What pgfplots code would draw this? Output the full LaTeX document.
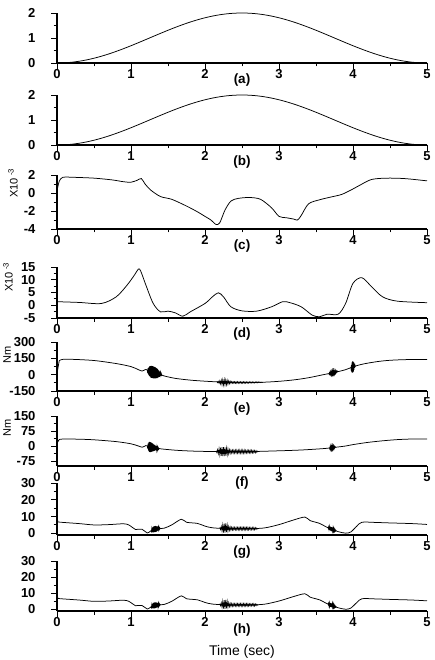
\documentclass[border=0pt]{standalone}
\usepackage{pgfplots}
\pgfplotsset{compat=1.18}
\usepackage{pgfplotstable}
\usepackage{fontspec}
\setmainfont{Liberation Sans}

\pgfplotstableread{
t y
0 0
0.1 0.0079
0.2 0.0314
0.3 0.0702
0.4 0.1237
0.5 0.1910
0.6 0.2710
0.7 0.3626
0.8 0.4642
0.9 0.5742
1.0 0.6910
1.1 0.8126
1.2 0.9372
1.3 1.0628
1.4 1.1874
1.5 1.3090
1.6 1.4258
1.7 1.5358
1.8 1.6374
1.9 1.7290
2.0 1.8090
2.1 1.8763
2.2 1.9298
2.3 1.9686
2.4 1.9921
2.5 2.0
2.6 1.9921
2.7 1.9686
2.8 1.9298
2.9 1.8763
3.0 1.8090
3.1 1.7290
3.2 1.6374
3.3 1.5358
3.4 1.4258
3.5 1.3090
3.6 1.1874
3.7 1.0628
3.8 0.9372
3.9 0.8126
4.0 0.6910
4.1 0.5742
4.2 0.4642
4.3 0.3626
4.4 0.2710
4.5 0.1910
4.6 0.1237
4.7 0.0702
4.8 0.0314
4.9 0.0079
5.0 0
}\dataA

\pgfplotstableread{
t y
0 0.2
0.03 1.3
0.08 1.75
0.2 1.75
0.5 1.65
0.75 1.45
0.9 1.25
1.0 1.2
1.08 1.4
1.14 1.6
1.19 1.0
1.27 0.3
1.4 -0.4
1.55 -0.7
1.75 -1.45
1.9 -2.1
2.0 -2.6
2.08 -3.0
2.15 -3.5
2.2 -3.3
2.27 -1.9
2.35 -0.9
2.45 -0.6
2.6 -0.5
2.75 -0.7
2.9 -1.65
3.0 -2.6
3.1 -2.75
3.2 -2.9
3.25 -3.0
3.3 -2.5
3.4 -1.2
3.55 -0.75
3.7 -0.45
3.85 -0.15
4.0 0.45
4.1 0.9
4.25 1.5
4.45 1.65
4.7 1.6
5.0 1.35
}\dataC

\pgfplotstableread{
t y
0 1.4
0.3 1.1
0.6 0.7
0.8 3.3
0.95 8.0
1.05 12
1.1 14.2
1.13 13.5
1.2 8
1.3 0.7
1.4 -2.6
1.5 -2.3
1.6 -3
1.7 -4.3
1.8 -2.6
2.0 0.7
2.1 3.3
2.18 4.9
2.25 3.3
2.35 -0.6
2.5 -2.2
2.7 -2.3
2.9 -0.6
3.05 1.4
3.15 1.0
3.3 -0.6
3.45 -3.9
3.55 -4.5
3.65 -3.5
3.8 -3.5
3.9 0.7
4.0 8.6
4.12 10.8
4.25 7.3
4.4 3.3
4.6 1.6
5.0 1.0
}\dataD

% ---------- panel e ----------
\pgfplotstableread{
t y
0 0
0.004 290
0.008 40
0.03 128
}\dataEs
\pgfplotstableread{
t y
0.03 128
0.07 140
0.2 141
0.5 130
0.8 102
1.0 74
1.1 46
1.15 33
1.18 42
1.2 48
1.25 32
1.35 12
1.45 -12
1.6 -34
1.8 -50
2.0 -60
2.2 -67
2.5 -72
2.8 -69
3.0 -61
3.2 -48
3.4 -28
3.6 0
3.75 20
3.9 46
4.0 72
4.1 92
4.2 106
4.35 122
4.5 132
4.7 138
5.0 140
}\dataE
\pgfplotstableread{
t y
1.220 45
1.225 12
1.230 61
1.235 0
1.240 66
1.245 -12
1.250 75
1.255 -19
1.260 78
1.265 -26
1.270 81
1.275 -30
1.280 81
1.285 -32
1.290 79
1.295 -32
1.300 77
1.305 -33
1.310 73
1.315 -34
1.320 70
1.325 -33
1.330 67
1.335 -33
1.340 63
1.345 -32
1.350 57
1.355 -31
1.360 53
1.365 -28
1.370 44
1.375 -23
1.380 38
1.385 -19
1.390 28
1.395 -13
1.400 19
1.405 -8
1.410 10
1.415 -4
1.420 0
}\dataEa
\pgfplotstableread{
t y
2.16 -64
2.17 -74
2.18 -61
2.19 -80
2.20 -55
2.21 -86
2.22 -50
2.23 -92
2.24 -46
2.25 -95
2.26 -45
2.27 -95
2.28 -47
2.29 -93
2.30 -51
2.31 -88
2.32 -56
2.33 -84
2.34 -60
2.35 -80
2.36 -63
2.37 -79
2.38 -64
2.39 -80
2.40 -64
2.41 -80
2.42 -64
2.43 -80
2.44 -64
2.45 -80
2.46 -65
2.47 -79
2.48 -65
2.49 -79
2.50 -65
2.51 -79
2.52 -65
2.53 -79
2.54 -65
2.55 -79
2.56 -66
2.57 -78
2.58 -66
2.59 -78
2.60 -66
2.61 -77
2.62 -66
2.63 -77
2.64 -66
2.65 -76
2.66 -66
2.67 -76
2.68 -66
2.69 -75
2.70 -66
2.71 -75
2.72 -67
2.73 -74
2.74 -68
2.75 -73
2.76 -69
2.77 -72
2.78 -70
}\dataEb
\pgfplotstableread{
t y
3.670 11
3.675 6
3.680 17
3.685 4
3.690 23
3.695 3
3.700 26
3.705 2
3.710 30
3.715 3
3.720 32
3.725 3
3.730 34
3.735 5
3.740 35
3.745 7
3.750 35
3.755 11
3.760 35
3.765 15
3.770 34
3.775 20
3.780 33
3.785 25
3.790 33
3.795 29
3.800 32
}\dataEc
\pgfplotstableread{
t y
3.970 67
3.974 49
3.978 90
3.982 31
3.986 112
3.990 18
3.994 122
3.998 19
4.002 122
4.006 28
4.010 112
4.014 45
4.018 99
4.022 63
4.026 89
4.030 75
4.034 81
}\dataEd

% ---------- panel f ----------
\pgfplotstableread{
t y
0 0
0.004 60
0.01 20
0.03 32
}\dataFs
\pgfplotstableread{
t y
0.03 32
0.08 35
0.3 34
0.5 31
0.8 22
1.0 11
1.1 0
1.15 -6
1.18 -2
1.2 2
1.28 -6
1.4 -14
1.6 -21
1.8 -25
2.0 -27
2.3 -28
2.6 -28
3.0 -24
3.3 -20
3.6 -13
3.75 -7
3.9 0
4.0 7
4.2 18
4.4 26
4.6 32
4.8 35
5.0 35
}\dataF
\pgfplotstableread{
t y
1.220 2
1.225 -13
1.230 12
1.235 -23
1.240 18
1.245 -29
1.250 20
1.255 -30
1.260 19
1.265 -31
1.270 18
1.275 -29
1.280 15
1.285 -28
1.290 13
1.295 -27
1.300 10
1.305 -25
1.310 7
1.315 -24
1.320 5
1.325 -23
1.330 2
1.335 -21
1.340 -1
1.345 -20
1.350 -3
1.355 -19
1.360 -6
1.365 -17
1.370 -9
1.375 -16
1.380 -13
}\dataFa
\pgfplotstableread{
t y
2.15 -24
2.16 -33
2.17 -18
2.18 -39
2.19 -12
2.20 -45
2.21 -8
2.22 -49
2.23 -6
2.24 -50
2.25 -6
2.26 -50
2.27 -7
2.28 -48
2.29 -10
2.30 -44
2.31 -14
2.32 -40
2.33 -18
2.34 -37
2.35 -20
2.36 -36
2.37 -20
2.38 -36
2.39 -20
2.40 -36
2.41 -20
2.42 -36
2.43 -20
2.44 -36
2.45 -20
2.46 -36
2.47 -20
2.48 -36
2.49 -20
2.50 -36
2.51 -20
2.52 -36
2.53 -20
2.54 -36
2.55 -21
2.56 -35
2.57 -21
2.58 -35
2.59 -21
2.60 -35
2.61 -21
2.62 -35
2.63 -21
2.64 -35
2.65 -22
2.66 -34
2.67 -22
2.68 -34
2.69 -23
2.70 -32
2.71 -25
2.72 -28
}\dataFb
\pgfplotstableread{
t y
3.680 -8
3.685 -14
3.690 -4
3.695 -16
3.700 -1
3.705 -17
3.710 -1
3.715 -16
3.720 0
3.725 -16
3.730 -1
3.735 -14
3.740 -1
3.745 -12
3.750 -2
3.755 -9
3.760 -4
3.765 -6
3.770 -5
}\dataFc

% ---------- panels g and h ----------
\pgfplotstableread{
t y
0 4
0.005 8.5
0.012 6.8
0.05 6.6
}\dataGs
\pgfplotstableread{
t y
0.05 6.6
0.3 5.8
0.5 5.0
0.7 5.2
0.9 5.7
0.97 5.0
1.02 3.5
1.06 2.3
1.15 2.4
1.22 0.2
1.27 1.5
1.35 2.6
1.45 3.1
1.55 5.0
1.68 8.4
1.75 6.6
1.9 5.9
2.0 4.3
2.1 3.3
2.3 2.8
2.6 2.8
2.8 3.2
3.0 5.2
3.2 8.0
3.35 9.7
3.42 7.6
3.55 5.9
3.63 4.0
3.7 2.6
3.8 1.0
3.9 0.1
3.97 0.8
4.05 4.2
4.12 6.6
4.3 6.5
4.5 6.2
4.8 5.8
5.0 5.3
}\dataG
\pgfplotstableread{
t y
1.270 1.8
1.275 1.1
1.280 2.8
1.285 0.8
1.290 3.5
1.295 0.6
1.300 4.0
1.305 0.6
1.310 4.2
1.315 0.7
1.320 4.3
1.325 0.7
1.330 4.4
1.335 0.9
1.340 4.3
1.345 1.1
1.350 4.2
1.355 1.3
1.360 4.1
1.365 1.7
1.370 3.8
1.375 2.1
1.380 3.5
1.385 2.4
1.390 3.2
1.395 2.8
1.400 3.0
}\dataGa
\pgfplotstableread{
t y
2.20 3.5
2.21 2.2
2.22 4.2
2.23 1.3
2.24 5.1
2.25 0.5
2.26 5.7
2.27 0.4
2.28 5.9
2.29 0.7
2.30 5.1
2.31 1.3
2.32 4.2
2.33 1.7
2.34 3.8
2.35 1.9
2.36 3.7
2.37 1.9
2.38 3.6
2.39 2.0
2.40 3.6
2.41 2.0
2.42 3.6
2.43 2.0
2.44 3.6
2.45 2.0
2.46 3.6
2.47 2.0
2.48 3.6
2.49 2.0
2.50 3.6
2.51 2.0
2.52 3.6
2.53 2.0
2.54 3.6
2.55 2.0
2.56 3.6
2.57 2.0
2.58 3.6
2.59 2.0
2.60 3.5
2.61 2.1
2.62 3.5
2.63 2.1
2.64 3.5
2.65 2.1
2.66 3.5
2.67 2.1
2.68 3.4
2.69 2.3
2.70 3.2
2.71 2.6
2.72 2.9
}\dataGb
\pgfplotstableread{
t y
3.660 3.7
3.665 3.0
3.670 3.9
3.675 2.4
3.680 4.1
3.685 1.9
3.690 4.1
3.695 1.6
3.700 3.9
3.705 1.4
3.710 3.7
3.715 1.2
3.720 3.5
3.725 1.3
3.730 3.2
3.735 1.2
3.740 2.8
3.745 1.3
3.750 2.5
3.755 1.3
3.760 2.1
3.765 1.4
3.770 1.8
3.775 1.5
}\dataGc

\tikzset{
  plab/.style={font=\fontsize{13.5}{13.5}\selectfont\bfseries},
  ylab/.style={rotate=90, font=\fontsize{11}{11}\selectfont},
  cur/.style={black, line width=0.75pt, mark=none},
  bur/.style={black, line width=0.65pt, mark=none},
}
\pgfplotsset{
  panel/.style={
    scale only axis, width=370pt, anchor=north west,
    clip mode=individual,
    xmin=0, xmax=5, xtick={0,1,2,3,4,5}, minor x tick num=1,
    minor y tick num=1,
    axis x line*=bottom, axis y line*=left,
    tick align=outside, major tick length=6pt, minor tick length=3.5pt,
    every tick/.style={black, line width=0.9pt},
    axis line style={black, line width=1.2pt},
    tick label style={font=\fontsize{13}{13}\selectfont},
    /pgf/number format/assume math mode=true,
    xticklabel={\textbf{\pgfmathprintnumber{\tick}}},
    yticklabel={\textbf{\pgfmathprintnumber{\tick}}},
    xticklabel style={inner sep=0.5pt},
    yticklabel style={xshift=-12pt},
  },
}

\begin{document}
\begin{tikzpicture}
\path[use as bounding box] (0pt,0pt) rectangle (434pt,-660pt);

% (a)
\begin{axis}[panel, at={(57pt,-13pt)}, height=50pt, ymin=0, ymax=2, ytick={0,1,2}]
\addplot[cur, smooth] table[x=t,y=y]{\dataA};
\node[plab] at ([yshift=-17.5pt]rel axis cs:0.5,0) {(a)};
\end{axis}

% (b)
\begin{axis}[panel, at={(57pt,-95pt)}, height=50pt, ymin=0, ymax=2, ytick={0,1,2}]
\addplot[cur, smooth] table[x=t,y=y]{\dataA};
\node[plab] at ([yshift=-17.5pt]rel axis cs:0.5,0) {(b)};
\end{axis}

% (c)
\begin{axis}[panel, at={(57pt,-175pt)}, height=54pt, ymin=-4, ymax=2, ytick={-4,-2,0,2}]
\addplot[cur, smooth] table[x=t,y=y]{\dataC};
\node[plab] at ([yshift=-17.5pt]rel axis cs:0.5,0) {(c)};
\node[ylab] at ([xshift=-44pt,yshift=-8pt]rel axis cs:0,1) {X10\textsuperscript{ -3}};
\end{axis}

% (d)
\begin{axis}[panel, at={(57pt,-267pt)}, height=51pt, ymin=-5, ymax=15, ytick={-5,0,5,10,15}]
\addplot[cur, smooth] table[x=t,y=y]{\dataD};
\node[plab] at ([yshift=-16.5pt]rel axis cs:0.5,0) {(d)};
\node[ylab] at ([xshift=-49pt,yshift=-10pt]rel axis cs:0,1) {X10\textsuperscript{ -3}};
\end{axis}

% (e)
\begin{axis}[panel, at={(57pt,-342pt)}, height=49pt, ymin=-150, ymax=300, ytick={-150,0,150,300}]
\addplot[cur] table[x=t,y=y]{\dataEs};
\addplot[cur, smooth] table[x=t,y=y]{\dataE};
\addplot[bur] table[x=t,y=y]{\dataEa};
\addplot[bur] table[x=t,y=y]{\dataEb};
\addplot[bur] table[x=t,y=y]{\dataEc};
\addplot[bur] table[x=t,y=y]{\dataEd};
\node[plab] at ([yshift=-18.5pt]rel axis cs:0.5,0) {(e)};
\node[ylab] at ([xshift=-50pt,yshift=-13pt]rel axis cs:0,1) {Nm};
\end{axis}

% (f)
\begin{axis}[panel, at={(57pt,-416pt)}, height=50pt, ymin=-100, ymax=150, ytick={-75,0,75,150}]
\addplot[cur] table[x=t,y=y]{\dataFs};
\addplot[cur, smooth] table[x=t,y=y]{\dataF};
\addplot[bur] table[x=t,y=y]{\dataFa};
\addplot[bur] table[x=t,y=y]{\dataFb};
\addplot[bur] table[x=t,y=y]{\dataFc};
\node[plab] at ([yshift=-17.5pt]rel axis cs:0.5,0) {(f)};
\node[ylab] at ([xshift=-50pt,yshift=-12pt]rel axis cs:0,1) {Nm};
\end{axis}

% (g)
\begin{axis}[panel, at={(57pt,-483pt)}, height=52pt, ymin=-1, ymax=30, ytick={0,10,20,30}]
\addplot[cur] table[x=t,y=y]{\dataGs};
\addplot[cur, smooth] table[x=t,y=y]{\dataG};
\addplot[bur] table[x=t,y=y]{\dataGa};
\addplot[bur] table[x=t,y=y]{\dataGb};
\addplot[bur] table[x=t,y=y]{\dataGc};
\node[plab] at ([yshift=-17.5pt]rel axis cs:0.5,0) {(g)};
\end{axis}

% (h)
\begin{axis}[panel, at={(57pt,-561pt)}, height=50pt, ymin=-1, ymax=30, ytick={0,10,20,30}]
\addplot[cur] table[x=t,y=y]{\dataGs};
\addplot[cur, smooth] table[x=t,y=y]{\dataG};
\addplot[bur] table[x=t,y=y]{\dataGa};
\addplot[bur] table[x=t,y=y]{\dataGb};
\addplot[bur] table[x=t,y=y]{\dataGc};
\node[plab] at ([yshift=-19pt]rel axis cs:0.5,0) {(h)};
\node[font=\fontsize{14}{14}\selectfont] at ([yshift=-41pt]rel axis cs:0.5,0) {Time (sec)};
\end{axis}
\end{tikzpicture}
\end{document}
